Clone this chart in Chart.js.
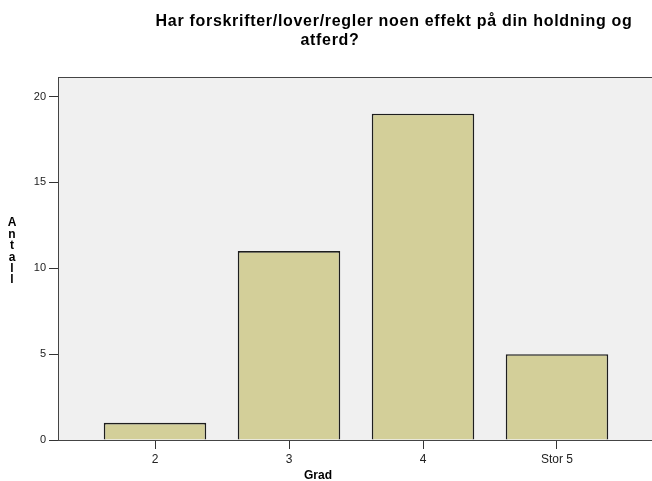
<!DOCTYPE html>
<html>
<head>
<meta charset="utf-8">
<script src="https://cdn.jsdelivr.net/npm/chart.js@4/dist/chart.umd.min.js"></script>
<style>
  html, body { margin: 0; padding: 0; background: #fff; overflow: hidden; }
  #wrap { width: 652px; height: 481px; }
</style>
</head>
<body>
<div id="wrap"><canvas id="myChart" width="652" height="481"></canvas></div>
<script>
var categories = ['2', '3', '4', 'Stor 5'];
var antall = [1, 11, 19, 5];
var yTicks = [0, 5, 10, 15, 20];

var titleLines = ['Har forskrifter/lover/regler noen effekt på din holdning og', 'atferd?'];
var xTitle = 'Grad';
var yTitle = 'Antall';

// SPSS-like background, frame and axis titles
var spssLook = {
    id: 'spssLook',
    beforeDraw: function(chart) {
        var c = chart.ctx, a = chart.chartArea;
        c.save();
        c.fillStyle = '#f0f0f0';
        c.fillRect(a.left, a.top, a.right - a.left + 10, a.bottom - a.top);
        c.strokeStyle = '#444';
        c.lineWidth = 1;
        c.strokeRect(a.left + 0.5, a.top + 0.5, a.right - a.left + 10, a.bottom - a.top);
        c.restore();
    },
    afterDraw: function(chart) {
        var c = chart.ctx;
        c.save();
        c.fillStyle = '#000';
        c.textAlign = 'center';
        c.textBaseline = 'middle';
        c.font = 'bold 16px "Liberation Sans", Arial, sans-serif';
        c.letterSpacing = '0.7px';
        c.fillText(titleLines[0], 394, 22);
        c.fillText(titleLines[1], 330, 41);
        c.letterSpacing = '0px';
        c.font = 'bold 12px "Liberation Sans", Arial, sans-serif';
        var xs = chart.scales.x;
        c.fillText(xTitle, xs.getPixelForValue(1) + 29, 476);
        for (var i = 0; i < yTitle.length; i++) {
            c.fillText(yTitle[i], 12, 223 + i * 11.4);
        }
        c.restore();
    }
};

var ctx = document.getElementById('myChart').getContext('2d');
var myChart = new Chart(ctx, {
    type: 'bar',
    data: {
        datasets: [{
            label: 'Antall',
            data: antall.map(function(v, i) { return { x: i, y: v }; }),
            backgroundColor: '#d3cf99',
            borderColor: '#1e1e1e',
            borderWidth: 1.6,
            categoryPercentage: 1,
            barPercentage: 0.765
        }]
    },
    plugins: [spssLook],
    options: {
        responsive: false,
        animation: false,
        layout: { padding: { top: 77, left: 0, right: 0, bottom: 0 } },
        plugins: {
            legend: { display: false },
            tooltip: { enabled: false }
        },
        scales: {
            x: {
                type: 'linear',
                offset: false,
                min: -0.724,
                max: 3.709,
                afterBuildTicks: function(scale) {
                    scale.ticks = categories.map(function(c, i) { return { value: i }; });
                },
                afterFit: function(scale) { scale.height = 41; },
                grid: { offset: false, drawOnChartArea: false, drawTicks: true, tickLength: 9, color: '#333' },
                border: { display: true, color: '#444' },
                ticks: {
                    color: '#222',
                    padding: 3,
                    font: { family: '"Liberation Sans", Arial, sans-serif', size: 12 },
                    callback: function(v) { return categories[v]; }
                }
            },
            y: {
                min: 0,
                max: 21.14,
                afterBuildTicks: function(scale) {
                    scale.ticks = yTicks.map(function(v) { return { value: v }; });
                },
                afterFit: function(scale) { scale.width = 58; },
                grid: { drawOnChartArea: false, drawTicks: true, tickLength: 9, color: '#333' },
                border: { display: true, color: '#444' },
                ticks: {
                    color: '#222',
                    padding: 3,
                    font: { family: '"Liberation Sans", Arial, sans-serif', size: 11 }
                }
            }
        }
    }
});
</script>
</body>
</html>
